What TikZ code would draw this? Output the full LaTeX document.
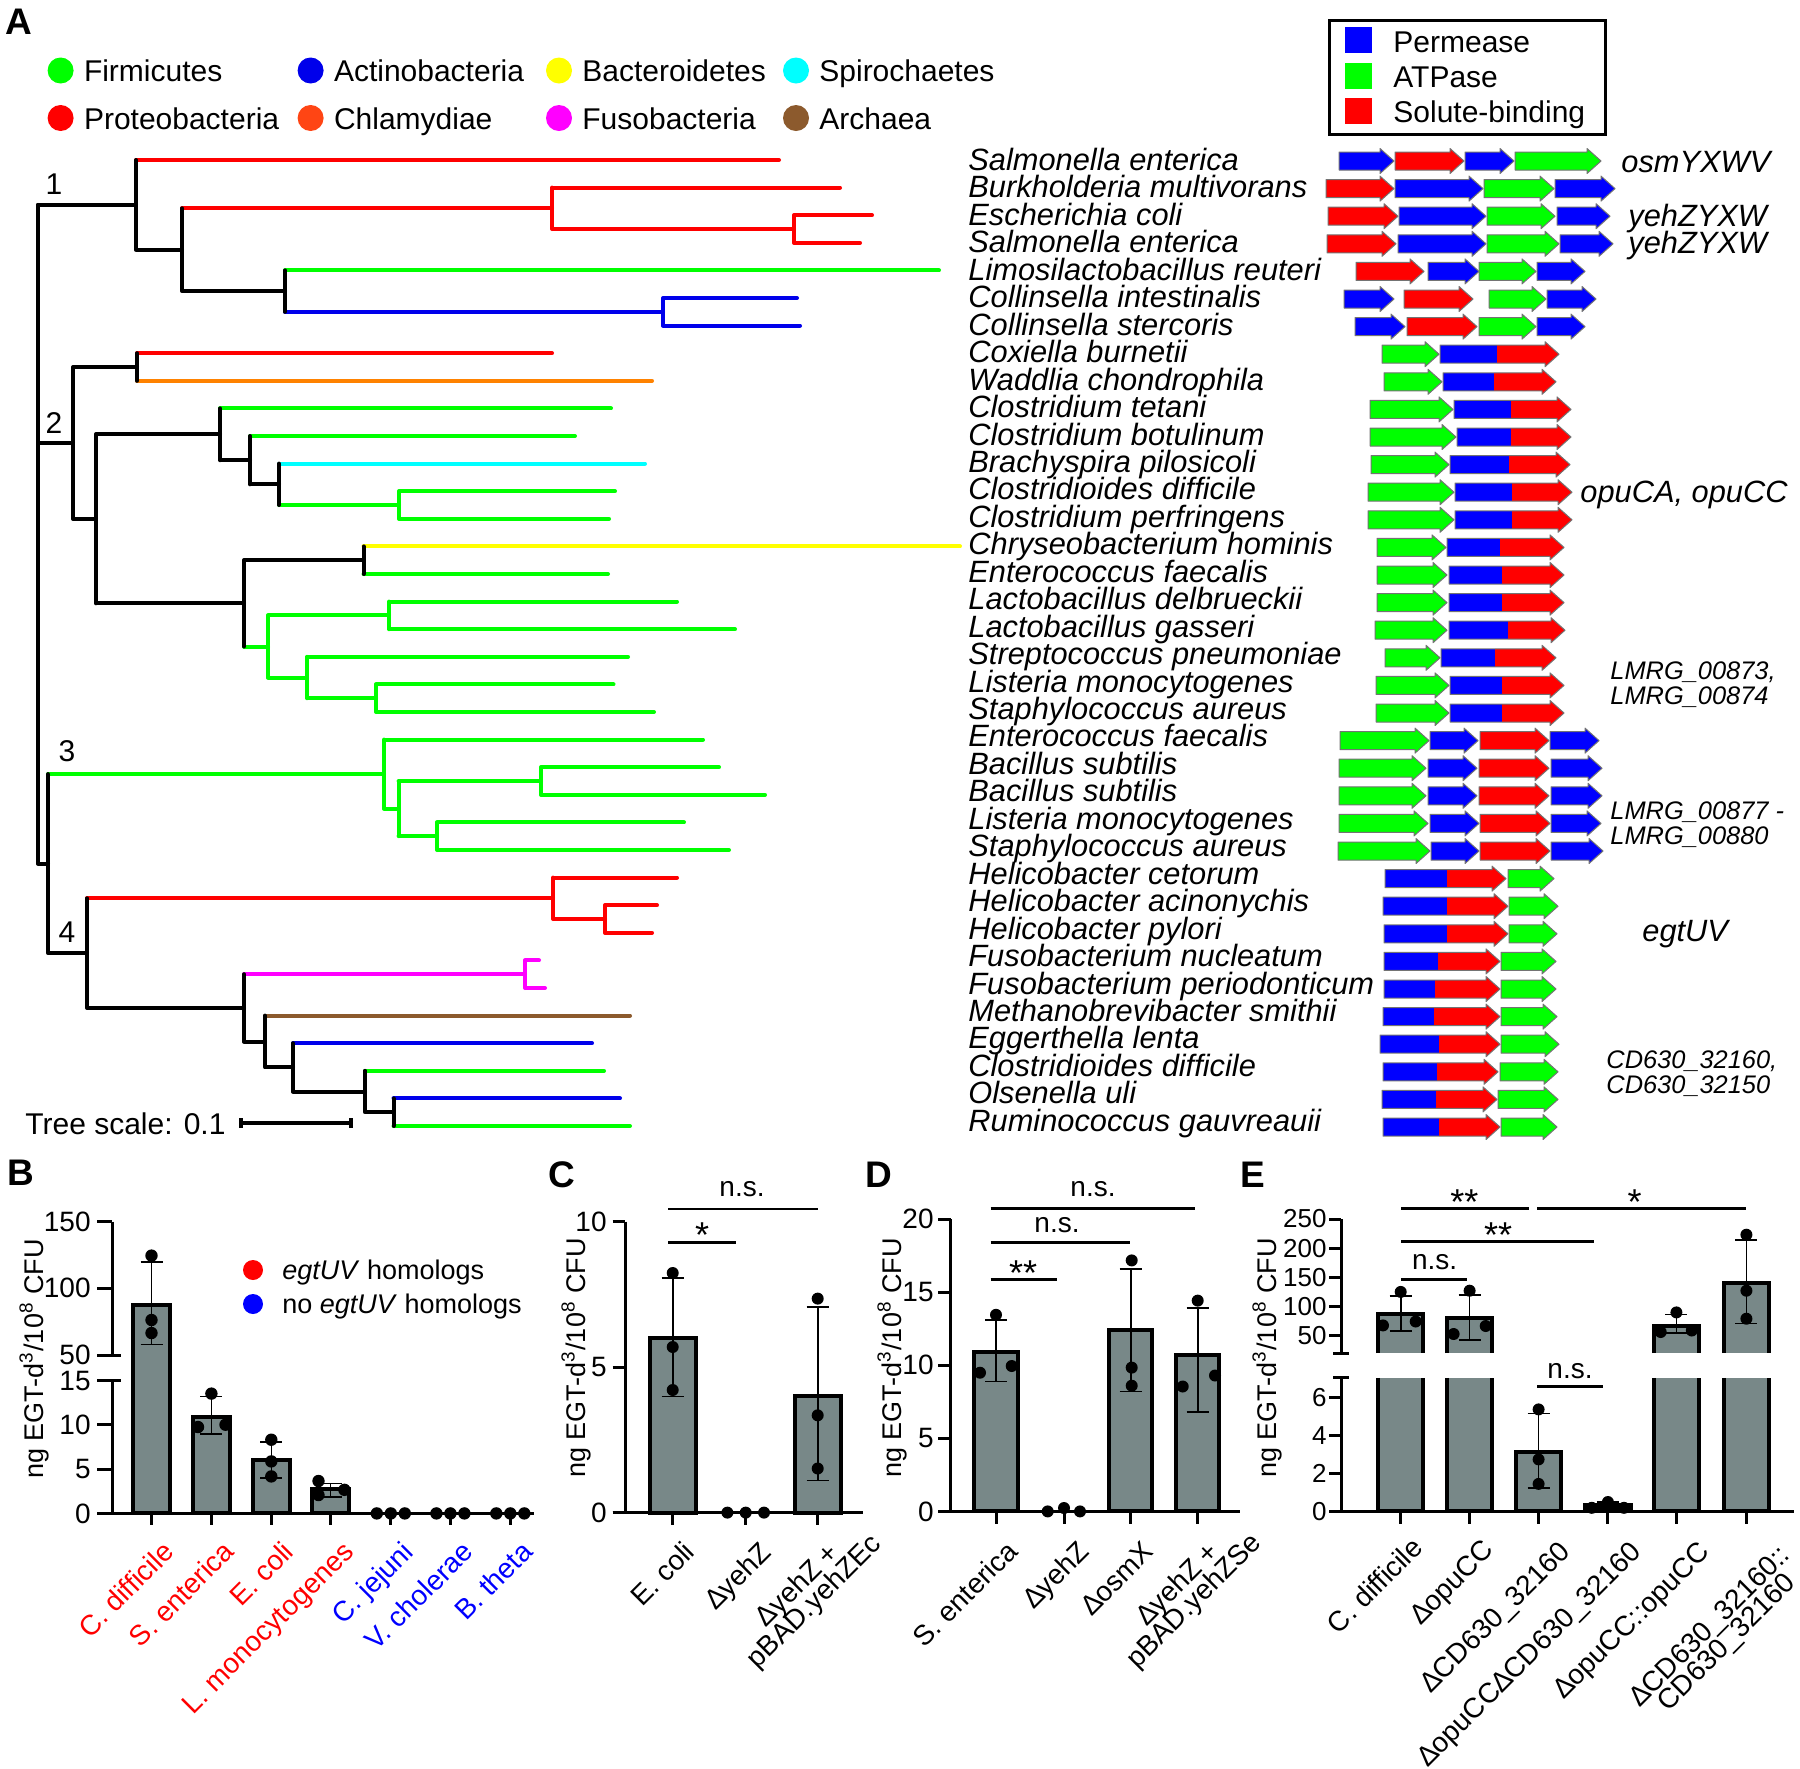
\documentclass[tikz,border=0pt]{standalone}
\usepackage{fontspec}
\setmainfont{Liberation Sans}
\usetikzlibrary{calc}

\definecolor{perm}{RGB}{0,0,255}
\definecolor{atp}{RGB}{0,255,0}
\definecolor{solute}{RGB}{255,0,0}
\definecolor{firm}{RGB}{0,255,0}
\definecolor{actino}{RGB}{0,0,235}
\definecolor{bactero}{RGB}{255,255,0}
\definecolor{spiro}{RGB}{0,255,255}
\definecolor{proteo}{RGB}{255,0,0}
\definecolor{chlamy}{RGB}{255,69,20}
\definecolor{chlamyline}{RGB}{255,130,0}
\definecolor{fuso}{RGB}{255,0,255}
\definecolor{archaea}{RGB}{140,90,45}
\definecolor{barfill}{RGB}{120,136,136}

\newcommand{\fsz}[1]{\fontsize{#1}{#1}\selectfont}

% one gene arrow: from, to, row y, colour
\newcommand{\gene}[4]{%
  \filldraw[genebox,fill=#4] (#1,#3-9) -- (#2-14,#3-9) -- (#2-14,#3-12.5) -- (#2,#3)
    -- (#2-14,#3+12.5) -- (#2-14,#3+9) -- (#1,#3+9) -- cycle;}
% fused gene: from, split, to, row y, first colour, second colour
\newcommand{\fused}[6]{%
  \fill[#5] (#1,#4-9) rectangle (#2,#4+9);
  \fill[#6] (#2,#4-9) -- (#3-14,#4-9) -- (#3-14,#4-12.5) -- (#3,#4)
    -- (#3-14,#4+12.5) -- (#3-14,#4+9) -- (#2,#4+9) -- cycle;
  \draw[genebox] (#1,#4-9) -- (#3-14,#4-9) -- (#3-14,#4-12.5) -- (#3,#4)
    -- (#3-14,#4+12.5) -- (#3-14,#4+9) -- (#1,#4+9) -- cycle;}
% error bar: x, upper y, lower y
\newcommand{\errbar}[3]{%
  \draw[err] (#1,#2) -- (#1,#3) (#1-11,#2) -- (#1+11,#2) (#1-11,#3) -- (#1+11,#3);}

\begin{document}
\begin{tikzpicture}[x=0.5pt,y=-0.5pt,
  tr/.style={line width=2pt,line cap=round,line join=round},
  sp/.style={anchor=base west,inner sep=0pt,font=\fsz{15.4}\itshape},
  leg/.style={anchor=base west,inner sep=0pt,font=\fsz{15}},
  glab/.style={anchor=base west,inner sep=0pt,font=\fsz{15.4}\itshape},
  gsmall/.style={anchor=base west,inner sep=0pt,font=\fsz{12.7}\itshape},
  genebox/.style={draw=black!55,line width=0.5pt,line join=round},
  panel/.style={inner sep=0pt,font=\fsz{18.5}\bfseries},
  axis/.style={line width=1.5pt},
  barbox/.style={fill=barfill,draw=black,line width=2pt},
  barline/.style={draw=black,line width=2pt},
  err/.style={line width=0.8pt},
  sigline/.style={line width=1.2pt},
  tick/.style={anchor=east,inner sep=0pt,font=\fsz{14}},
  ylab/.style={rotate=90,inner sep=0pt,font=\fsz{13.5}},
  xl/.style={rotate=45,anchor=north east,inner sep=1pt,text height=0.72em,text depth=0.21em,font=\fsz{14}},
  sig/.style={inner sep=0pt,font=\fsz{14}},
  stars/.style={inner sep=0pt,font=\fsz{18}}]

\fill[white] (0,0) rectangle (1800,1768);
\useasboundingbox (0,0) rectangle (1800,1768);

%% ---------- A: tree ----------
\node[panel] at (19,22) {A};

\foreach \cx/\cy/\col/\txt in {60.6/70.5/firm/Firmicutes, 310.6/70.5/actino/Actinobacteria,
    559/70.5/bactero/Bacteroidetes, 796/70.5/spiro/Spirochaetes,
    60.6/118/proteo/Proteobacteria, 310.6/118/chlamy/Chlamydiae,
    559/118/fuso/Fusobacteria, 796/118/archaea/Archaea}
  {\fill[\col] (\cx,\cy) circle[radius=6.5pt];
   \node[leg] at (\cx+23,\cy+11) {\txt};}

% clade 1
\draw[tr,proteo] (136,160) -- (779,160) (182,208.3) -- (552,208.3) (552,187.6) -- (552,229)
  (552,187.6) -- (840,187.6) (552,229) -- (794,229) (794,215.2) -- (794,242.8)
  (794,215.2) -- (872,215.2) (794,242.8) -- (860,242.8);
\draw[tr,firm] (285,270.4) -- (939,270.4);
\draw[tr,actino] (285,311.8) -- (663,311.8) (663,298) -- (663,325.6)
  (663,298) -- (797,298) (663,325.6) -- (800,325.6);
\draw[tr] (38,204.9) -- (136,204.9) (136,160) -- (136,249.7) -- (182,249.7)
  (182,208.3) -- (182,291.1) -- (285,291.1) (285,270.4) -- (285,311.8);

% clade 2
\draw[tr,proteo] (137,353.2) -- (552,353.2);
\draw[tr,chlamyline] (137,380.8) -- (652,380.8);
\draw[tr,firm] (220,408.4) -- (611,408.4) (250,436) -- (575,436) (279,505) -- (399,505)
  (399,491.2) -- (399,518.8) (399,491.2) -- (615,491.2) (399,518.8) -- (609,518.8);
\draw[tr,spiro] (279,463.6) -- (645,463.6);
\draw[tr,bactero] (363.5,546.4) -- (960,546.4);
\draw[tr,firm] (363.5,574) -- (608,574) (244,646.5) -- (268,646.5) (268,615.4) -- (268,677.5)
  (268,615.4) -- (389,615.4) (389,601.6) -- (389,629.2) (389,601.6) -- (677,601.6)
  (389,629.2) -- (735,629.2) (268,677.5) -- (307,677.5) (307,656.8) -- (307,698.2)
  (307,656.8) -- (628,656.8) (307,698.2) -- (376,698.2) (376,684.4) -- (376,712)
  (376,684.4) -- (613.5,684.4) (376,712) -- (654,712);
\draw[tr] (38,442.9) -- (73,442.9) (73,367) -- (73,518.8) (73,367) -- (137,367) (137,353.2) -- (137,380.8)
  (73,518.8) -- (96,518.8) (96,434.3) -- (96,603.3) (96,434.3) -- (220,434.3) (220,408.4) -- (220,460.2)
  (220,460.2) -- (250,460.2) (250,436) -- (250,484.3) (250,484.3) -- (279,484.3) (279,463.6) -- (279,505)
  (96,603.3) -- (244,603.3) (244,560.2) -- (244,646.5) (244,560.2) -- (363.5,560.2) (363.5,546.4) -- (363.5,574);

% clade 3
\draw[tr,firm] (48,774.1) -- (384,774.1) (384,739.6) -- (384,808.6) (384,739.6) -- (703,739.6)
  (384,808.6) -- (398.6,808.6) (398.6,781) -- (398.6,836.2) (398.6,781) -- (541,781)
  (541,767.2) -- (541,794.8) (541,767.2) -- (719,767.2) (541,794.8) -- (765,794.8)
  (398.6,836.2) -- (437,836.2) (437,822.4) -- (437,850) (437,822.4) -- (684,822.4) (437,850) -- (729,850);

% clade 4
\draw[tr,proteo] (87,898.3) -- (553,898.3) (553,877.6) -- (553,919) (553,877.6) -- (677,877.6)
  (553,919) -- (605,919) (605,905.2) -- (605,932.8) (605,905.2) -- (657,905.2) (605,932.8) -- (652,932.8);
\draw[tr,fuso] (244,974.2) -- (525,974.2) (525,960.4) -- (525,988) (525,960.4) -- (539,960.4) (525,988) -- (545,988);
\draw[tr,archaea] (265,1015.6) -- (630,1015.6);
\draw[tr,actino] (293,1043.2) -- (592,1043.2) (393.5,1098.4) -- (620,1098.4);
\draw[tr,firm] (365,1070.8) -- (604,1070.8) (393.5,1126) -- (630,1126);
\draw[tr] (38,204.9) -- (38,863.6) -- (48,863.6) (48,774.1) -- (48,953.1) -- (87,953.1)
  (87,898.3) -- (87,1007.9) -- (244,1007.9) (244,974.2) -- (244,1041.5) -- (265,1041.5)
  (265,1015.6) -- (265,1067.4) -- (293,1067.4) (293,1043.2) -- (293,1091.5) -- (365,1091.5)
  (365,1070.8) -- (365,1112.2) -- (393.5,1112.2) (393.5,1098.4) -- (393.5,1126);

\foreach \num/\nx/\ny in {1/54/184, 2/54/423, 3/67/751, 4/67/932}
  \node[inner sep=0pt,font=\fsz{15}] at (\nx,\ny) {\num};

\node[leg] at (25,1134) {Tree scale: 0.1};
\draw[line width=2pt] (241,1123) -- (351,1123) (241,1118) -- (241,1128) (351,1118) -- (351,1128);

% species
\foreach \name [count=\i from 0] in {Salmonella enterica, Burkholderia multivorans, Escherichia coli,
    Salmonella enterica, Limosilactobacillus reuteri, Collinsella intestinalis, Collinsella stercoris,
    Coxiella burnetii, Waddlia chondrophila, Clostridium tetani, Clostridium botulinum,
    Brachyspira pilosicoli, Clostridioides difficile, Clostridium perfringens, Chryseobacterium hominis,
    Enterococcus faecalis, Lactobacillus delbrueckii, Lactobacillus gasseri, Streptococcus pneumoniae,
    Listeria monocytogenes, Staphylococcus aureus, Enterococcus faecalis, Bacillus subtilis,
    Bacillus subtilis, Listeria monocytogenes, Staphylococcus aureus, Helicobacter cetorum,
    Helicobacter acinonychis, Helicobacter pylori, Fusobacterium nucleatum, Fusobacterium periodonticum,
    Methanobrevibacter smithii, Eggerthella lenta, Clostridioides difficile, Olsenella uli,
    Ruminococcus gauvreauii}
  \node[sp] at (968,{159.5+27.45*\i+11}) {\name};

% gene legend
\draw[line width=1.5pt] (1329,20) rectangle (1605,134);
\foreach \col/\txt [count=\i from 0] in {perm/Permease, atp/ATPase, solute/Solute-binding}
  {\fill[\col] (1345,{27+35.6*\i}) rectangle (1372,{53+35.6*\i});
   \node[leg] at (1393,{41.7+35*\i+11}) {\txt};}

% operons with four genes
\foreach \row/\xa/\xb/\col in {
    0/1339/1394/perm, 0/1395/1464/solute, 0/1465/1514/perm, 0/1515/1601/atp,
    1/1326/1394/solute, 1/1395/1483/perm, 1/1484/1554/atp, 1/1555/1615/perm,
    2/1328/1398/solute, 2/1399/1486/perm, 2/1487/1555/atp, 2/1557/1610/perm,
    3/1327/1396/solute, 3/1398/1486/perm, 3/1487/1559/atp, 3/1560/1613/perm,
    4/1356/1424/solute, 4/1428/1479/perm, 4/1479/1536/atp, 4/1537/1585/perm,
    5/1344/1394/perm, 5/1404/1473/solute, 5/1489/1546/atp, 5/1547/1596/perm,
    6/1355/1405/perm, 6/1407/1477/solute, 6/1479/1536/atp, 6/1537/1585/perm,
    21/1340/1429/atp, 21/1430/1478/perm, 21/1480/1549/solute, 21/1550/1599/perm,
    22/1339/1426/atp, 22/1428/1477/perm, 22/1479/1549/solute, 22/1551/1602/perm,
    23/1339/1426/atp, 23/1428/1477/perm, 23/1479/1549/solute, 23/1551/1602/perm,
    24/1339/1428/atp, 24/1430/1479/perm, 24/1480/1550/solute, 24/1551/1601/perm,
    25/1338/1430/atp, 25/1431/1479/perm, 25/1480/1550/solute, 25/1551/1603/perm}
  {\pgfmathsetmacro{\gy}{161+27.6*\row}\gene{\xa}{\xb}{\gy}{\col}}

% ATPase then fused permease/solute-binding
\foreach \row/\ga/\gb/\fa/\fs/\fe in {7/1382/1439/1440/1497/1559, 8/1384/1442/1443/1494/1556,
    9/1370/1453/1454/1511/1571, 10/1370/1456/1457/1511/1571, 11/1371/1449/1450/1509/1570,
    12/1368/1454/1455/1512/1572, 13/1368/1454/1455/1512/1572, 14/1377/1446/1447/1500/1564,
    15/1377/1447/1449/1502/1564, 16/1377/1447/1449/1502/1564, 17/1375/1447/1449/1508/1565,
    18/1385/1440/1441/1495/1556, 19/1376/1449/1450/1502/1564, 20/1376/1449/1450/1502/1564}
  {\pgfmathsetmacro{\gy}{161+27.6*\row}\gene{\ga}{\gb}{\gy}{atp}\fused{\fa}{\fs}{\fe}{\gy}{perm}{solute}}

% fused permease/solute-binding then ATPase
\foreach \row/\fa/\fs/\fe/\ga/\gb in {26/1385/1447/1506/1508/1554, 27/1383/1447/1508/1509/1558,
    28/1384/1447/1508/1509/1557, 29/1384/1438/1500/1501/1556, 30/1384/1435/1500/1501/1556,
    31/1383/1434/1500/1501/1557, 32/1380/1439/1500/1501/1559, 33/1383/1437/1498/1500/1558,
    34/1382/1436/1497/1498/1558, 35/1383/1439/1500/1501/1557}
  {\pgfmathsetmacro{\gy}{161+27.6*\row}\fused{\fa}{\fs}{\fe}{\gy}{perm}{solute}\gene{\ga}{\gb}{\gy}{atp}}

\node[glab] at (1621,172.7) {osmYXWV};
\node[glab] at (1628,226.2) {yehZYXW};
\node[glab] at (1628,253.8) {yehZYXW};
\node[glab] at (1580,502.2) {opuCA, opuCC};
\node[gsmall] at (1610,679.7) {LMRG\_00873,};
\node[gsmall] at (1610,704.6) {LMRG\_00874};
\node[gsmall] at (1610,819.4) {LMRG\_00877 -};
\node[gsmall] at (1610,844.3) {LMRG\_00880};
\node[glab] at (1642,941.8) {egtUV};
\node[gsmall] at (1606,1068.2) {CD630\_32160,};
\node[gsmall] at (1606,1093.1) {CD630\_32150};

%% ---------- B ----------
\node[panel] at (21,1173) {B};
\node[ylab] at (34,1359) {ng EGT-d\textsuperscript{3}/10\textsuperscript{8} CFU};
\foreach \bx/\yt in {151.5/1304.7, 211.4/1416.9, 271.3/1460.3, 330.6/1489.1}
  \filldraw[barbox] (\bx-18.5,1513.4) rectangle (\bx+18.5,\yt);
\draw[axis] (112,1221.7) -- (112,1355) (112,1380.6) -- (112,1513.4) (97,1513.4) -- (534,1513.4);
\draw[axis] (112,1355) -- (121,1355) (112,1380.6) -- (121,1380.6);
\foreach \ty/\tv in {1221.7/150, 1288.3/100, 1355/50, 1380.6/15, 1424.7/10, 1469/5, 1513.4/0}
  {\draw[axis] (97,\ty) -- (112,\ty); \node[tick] at (91,\ty) {\tv};}
\foreach \k in {0,...,6}
  \draw[axis] ({151.5+59.8*\k},1513.4) -- ({151.5+59.8*\k},1525);
\errbar{151.5}{1262.2}{1344.3}
\errbar{211.4}{1396.5}{1433.7}
\errbar{271.3}{1441.7}{1478}
\errbar{330.6}{1483.3}{1497}
\foreach \px/\py in {151.5/1255.6, 151.5/1320, 151.5/1333, 211.4/1393.6, 198/1427, 225.5/1424.7,
    271.3/1439.7, 271.3/1461.4, 271.3/1476.4, 318.5/1481, 318.5/1495, 344.4/1489.8,
    376.8/1513.4, 390.8/1513.4, 404.8/1513.4, 436.4/1513.4, 450.4/1513.4, 464.4/1513.4,
    496.3/1513.4, 510.3/1513.4, 524.3/1513.4}
  \fill (\px,\py) circle[radius=3.1pt];
\fill[red] (253,1270) circle[radius=5pt];
\fill[blue] (253,1304) circle[radius=5pt];
\node[anchor=base west,inner sep=0pt,font=\fsz{13.5}] at (282,1279.7) {\textit{egtUV} homologs};
\node[anchor=base west,inner sep=0pt,font=\fsz{13.5}] at (282,1313.7) {no \textit{egtUV} homologs};
\foreach \lab/\col [count=\k from 0] in {C. difficile/red, S. enterica/red, E. coli/red,
    L. monocytogenes/red, C. jejuni/blue, V. cholerae/blue, B. theta/blue}
  \node[xl,text=\col] at ({151.5+59.8*\k+14},1540) {\lab};

%% ---------- C ----------
\node[panel] at (562,1175) {C};
\node[ylab] at (576,1358) {ng EGT-d\textsuperscript{3}/10\textsuperscript{8} CFU};
\filldraw[barbox] (672.7-22.8,1512.6) rectangle (672.7+22.8,1338.3);
\filldraw[barbox] (817.7-22.8,1512.6) rectangle (817.7+22.8,1395.7);
\draw[axis] (625,1221.7) -- (625,1512.6) (612.7,1512.6) -- (863,1512.6);
\foreach \tv in {0,5,10}
  {\draw[axis] (612.7,{1512.6-29.09*\tv}) -- (625,{1512.6-29.09*\tv});
   \node[tick] at (607,{1512.6-29.09*\tv}) {\tv};}
\foreach \bx in {672.7,745.7,817.7}
  \draw[axis] (\bx,1512.6) -- (\bx,1525);
\errbar{672.7}{1278.1}{1396.3}
\errbar{817.7}{1306.9}{1480.6}
\foreach \px/\py in {672.7/1273, 672.7/1347, 672.7/1390, 727.4/1512.6, 745.7/1512.6, 764/1512.6,
    817.7/1298.6, 817.7/1415.3, 817.7/1468.5}
  \fill (\px,\py) circle[radius=3pt];
\draw[sigline] (668,1209) -- (817.7,1209) (668,1242.6) -- (735.7,1242.6);
\node[sig] at (742,1189.4) {n.s.};
\node[stars] at (702,1235.5) {*};
\node[xl] at (686,1540) {E. coli};
\node[xl] at (762,1541) {∆yehZ};
\node[xl] (c3) at (830,1541) {∆yehZ +};
\node[xl,anchor=north] at (c3.south) {pBAD.yehZEc};

%% ---------- D ----------
\node[panel] at (879,1175) {D};
\node[ylab] at (892,1358) {ng EGT-d\textsuperscript{3}/10\textsuperscript{8} CFU};
\foreach \bx/\yt in {996/1352, 1130.7/1330.1, 1197.7/1355}
  \filldraw[barbox] (\bx-21.7,1511.4) rectangle (\bx+21.7,\yt);
\draw[axis] (950.7,1219) -- (950.7,1511.4) (938.3,1511.4) -- (1240,1511.4);
\foreach \tv in {0,5,10,15,20}
  {\draw[axis] (938.3,{1511.4-14.62*\tv}) -- (950.7,{1511.4-14.62*\tv});
   \node[tick] at (934,{1511.4-14.62*\tv}) {\tv};}
\foreach \bx in {996,1064,1130.7,1197.7}
  \draw[axis] (\bx,1511.4) -- (\bx,1523.5);
\errbar{996}{1319.9}{1381.3}
\errbar{1130.7}{1268.7}{1391.5}
\errbar{1197.7}{1308.2}{1412.1}
\foreach \px/\py in {996/1314.8, 980/1372.7, 1011.7/1366, 1047.7/1511.4, 1064/1508, 1080/1511.4,
    1131.7/1260.4, 1131.7/1367.6, 1131.7/1385.7, 1197.7/1300.6, 1182.7/1386.5, 1215/1375.5}
  \fill (\px,\py) circle[radius=3pt];
\draw[sigline] (990.7,1208.3) -- (1195,1208.3) (990.7,1242.6) -- (1130,1242.6) (990.7,1279.3) -- (1057.3,1279.3);
\node[sig] at (1093,1189.4) {n.s.};
\node[sig] at (1057,1225) {n.s.};
\node[stars] at (1023,1273) {**};
\node[xl] at (1009,1540) {S. enterica};
\node[xl] at (1080,1540) {∆yehZ};
\node[xl] at (1145,1540) {∆osmX};
\node[xl] (d4) at (1210,1540) {∆yehZ +};
\node[xl,anchor=north] at (d4.south) {pBAD.yehZSe};

%% ---------- E ----------
\node[panel] at (1253,1175) {E};
\node[ylab] at (1267,1358) {ng EGT-d\textsuperscript{3}/10\textsuperscript{8} CFU};
\foreach \bx/\yt in {1400.7/1313.6, 1469.6/1317.5, 1676.4/1326.2, 1746.4/1282.8}
  {\fill[barfill] (\bx-22.7,1353) rectangle (\bx+22.7,\yt);
   \fill[barfill] (\bx-22.7,1377.8) rectangle (\bx+22.7,1511.4);
   \draw[barline] (\bx-22.7,1353) -- (\bx-22.7,\yt) -- (\bx+22.7,\yt) -- (\bx+22.7,1353);
   \draw[barline] (\bx-22.7,1377.8) -- (\bx-22.7,1511.4) -- (\bx+22.7,1511.4) -- (\bx+22.7,1377.8);}
\foreach \bx/\yt in {1538.6/1452.3, 1607.9/1504.8}
  \filldraw[barbox] (\bx-22.7,1511.4) rectangle (\bx+22.7,\yt);
\draw[axis] (1341,1219) -- (1341,1353) (1341,1377.8) -- (1341,1511.4) (1329.3,1511.4) -- (1793.6,1511.4);
\draw[axis] (1333,1353) -- (1349,1353) (1333,1377.8) -- (1349,1377.8);
\foreach \ty/\tv in {1219/250, 1248.1/200, 1277.2/150, 1306.2/100, 1335.3/50,
    1397.4/6, 1435.4/4, 1473.4/2, 1511.4/0}
  {\draw[axis] (1329.3,\ty) -- (1341,\ty); \node[tick,font=\fsz{13}] at (1327,\ty) {\tv};}
\foreach \bx in {1400.7,1469.6,1538.6,1607.9,1676.4,1746.4}
  \draw[axis] (\bx,1511.4) -- (\bx,1523.5);
\errbar{1400.7}{1295.8}{1331.2}
\errbar{1469.6}{1295}{1340}
\errbar{1538.6}{1413.4}{1488.2}
\errbar{1607.9}{1502}{1508}
\errbar{1676.4}{1314.6}{1333}
\errbar{1746.4}{1239.9}{1323.4}
\foreach \px/\py in {1400.7/1291.9, 1383/1325.4, 1415.7/1321.5, 1469.6/1290.7, 1453.6/1334, 1485.7/1326,
    1538.6/1409.4, 1538.6/1459.4, 1538.6/1483.9, 1591.8/1507.8, 1607.9/1502, 1623.9/1507.8,
    1676.4/1312.4, 1660.7/1332, 1691.8/1330.5, 1746.4/1234.7, 1746.4/1290.7, 1746.4/1318.7}
  \fill (\px,\py) circle[radius=3pt];
\draw[sigline] (1401.4,1208.3) -- (1529.3,1208.3) (1537,1208.3) -- (1746.4,1208.3)
  (1401.4,1241.4) -- (1594.3,1241.4) (1401.4,1279.3) -- (1466.8,1279.3) (1537,1386.5) -- (1602.5,1386.5);
\node[stars] at (1464.3,1202) {**};
\node[stars] at (1634.6,1202) {*};
\node[stars] at (1498,1235.5) {**};
\node[sig] at (1434.6,1262.3) {n.s.};
\node[sig] at (1570,1370.7) {n.s.};
\node[xl] at (1414,1536) {C. difficile};
\node[xl] at (1485,1538) {∆opuCC};
\node[xl] at (1561,1540) {∆CD630\_32160};
\node[xl] at (1632,1540) {∆opuCC∆CD630\_32160};
\node[xl] at (1701,1540) {∆opuCC::opuCC};
\node[xl] (e6) at (1781,1543) {∆CD630\_32160::};
\node[xl,anchor=north] at (e6.south) {CD630\_32160};

\end{tikzpicture}
\end{document}
